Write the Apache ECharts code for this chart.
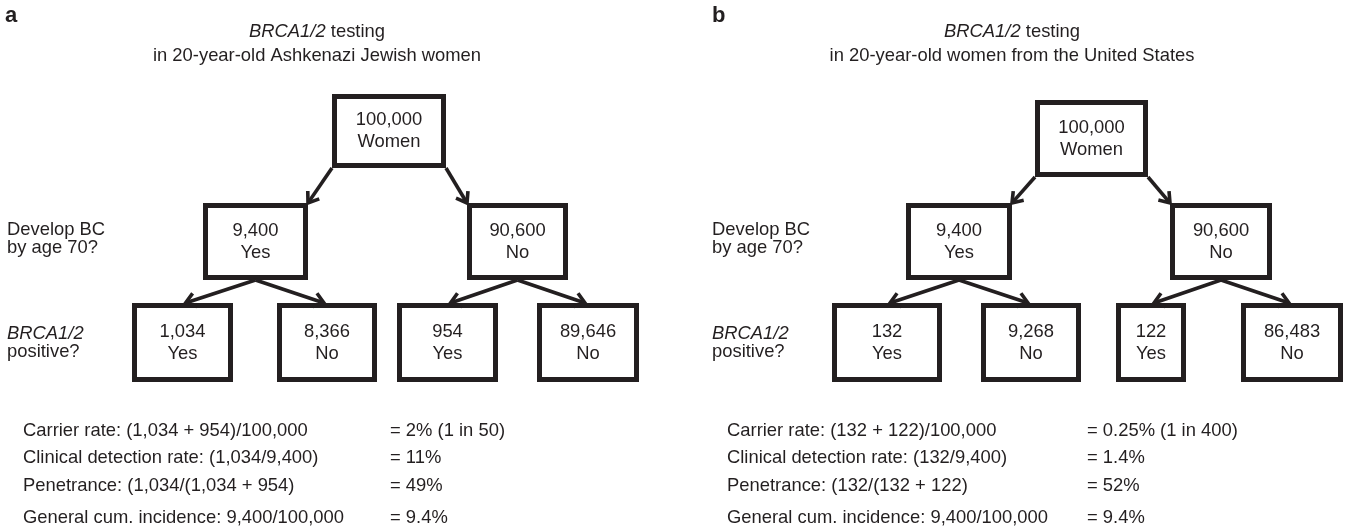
<!DOCTYPE html>
<html><head><meta charset="utf-8">
<script src="https://cdn.jsdelivr.net/npm/echarts@6/dist/echarts.min.js"></script>
<style>html,body{margin:0;padding:0;background:#fff}#c{width:1348px;height:530px}</style>
</head><body><div id="c"></div>
<script>
// ---------------- data ----------------
const panelLetters = ['a', 'b'];
const titleGene = 'BRCA1/2';
const titleRest = ' testing';
const populations = ['in 20-year-old Ashkenazi Jewish women', 'in 20-year-old women from the United States'];
const rootCounts = [100000, 100000];
const rootLabel = 'Women';
const bcCountsA = [9400, 90600];
const bcCountsB = [9400, 90600];
const bcAnswers = ['Yes', 'No'];
const carrierCountsA = [1034, 8366, 954, 89646];
const carrierCountsB = [132, 9268, 122, 86483];
const carrierAnswers = ['Yes', 'No', 'Yes', 'No'];
const question1 = ['Develop BC', 'by age 70?'];
const question2 = ['BRCA1/2', 'positive?'];
const metricNames = ['Carrier rate', 'Clinical detection rate', 'Penetrance', 'General cum. incidence'];
const formulasA = ['(1,034 + 954)/100,000', '(1,034/9,400)', '(1,034/(1,034 + 954)', '9,400/100,000'];
const formulasB = ['(132 + 122)/100,000', '(132/9,400)', '(132/(132 + 122)', '9,400/100,000'];
const resultsA = ['2% (1 in 50)', '11%', '49%', '9.4%'];
const resultsB = ['0.25% (1 in 400)', '1.4%', '52%', '9.4%'];

// ---------------- layout & style ----------------
const INK = '#231f20';
const FF = '"Liberation Sans", Arial, Helvetica, sans-serif';
const FS = 18.4;
const BOX_LW = 5;
const ARROW_LW = 3.6;
const LAYOUT = [
  { letter: [5, 27], titleX: 317, qX: 7, textX: 23, resultX: 390,
    root: { l: 332, r: 446, t: 94, b: 168 },
    level2: [{ l: 203, r: 308 }, { l: 467, r: 568 }], l2y: [203, 280],
    level3: [{ l: 132, r: 233 }, { l: 277, r: 377 }, { l: 397, r: 498 }, { l: 537, r: 639 }], l3y: [303, 382] },
  { letter: [712, 27], titleX: 1012, qX: 712, textX: 727, resultX: 1087,
    root: { l: 1035, r: 1148, t: 100, b: 177 },
    level2: [{ l: 906, r: 1012 }, { l: 1170, r: 1272 }], l2y: [203, 280],
    level3: [{ l: 832, r: 942 }, { l: 981, r: 1081 }, { l: 1116, r: 1186 }, { l: 1241, r: 1343 }], l3y: [303, 382] }
];
const TITLE_Y = [32, 56];
const Q1_Y = 239, Q2_Y = 343;
const ROWS_Y = [431, 458, 486, 518];

const fmt = v => v.toLocaleString('en-US');
const panelData = [
  { bc: bcCountsA, carriers: carrierCountsA, formulas: formulasA, results: resultsA },
  { bc: bcCountsB, carriers: carrierCountsB, formulas: formulasB, results: resultsB }
];

// build nodes, edges, texts
const nodes = [], edges = [], texts = [];
LAYOUT.forEach((L, p) => {
  const D = panelData[p];
  const r = L.root;
  nodes.push({ l: r.l, r: r.r, t: r.t, b: r.b, lines: [fmt(rootCounts[p]), rootLabel] });
  L.level2.forEach((b, i) => {
    nodes.push({ l: b.l, r: b.r, t: L.l2y[0], b: L.l2y[1], lines: [fmt(D.bc[i]), bcAnswers[i]] });
    if (i === 0) edges.push([r.l, r.b, b.r, L.l2y[0]]);
    else edges.push([r.r, r.b, b.l, L.l2y[0]]);
  });
  L.level3.forEach((b, j) => {
    nodes.push({ l: b.l, r: b.r, t: L.l3y[0], b: L.l3y[1], lines: [fmt(D.carriers[j]), carrierAnswers[j]] });
    const par = L.level2[Math.floor(j / 2)];
    const px = (par.l + par.r) / 2, cx = (b.l + b.r) / 2;
    edges.push([px, L.l2y[1], cx + (cx < px ? 3 : -3), L.l3y[0]]);
  });
  texts.push({ x: L.letter[0], y: L.letter[1], text: panelLetters[p], align: 'left', vAlign: 'alphabetic', bold: true, size: 22 });
  texts.push({ x: L.titleX, y: TITLE_Y[0], text: '{i|' + titleGene + '}' + titleRest, align: 'center' });
  texts.push({ x: L.titleX, y: TITLE_Y[1], text: populations[p], align: 'center' });
  texts.push({ x: L.qX, y: Q1_Y, text: question1.join('\n'), align: 'left', lh: 18 });
  texts.push({ x: L.qX, y: Q2_Y, text: '{i|' + question2[0] + '}\n' + question2[1], align: 'left', lh: 18 });
  metricNames.forEach((m, k) => {
    texts.push({ x: L.textX, y: ROWS_Y[k], text: m + ': ' + D.formulas[k], align: 'left' });
    texts.push({ x: L.resultX, y: ROWS_Y[k], text: '= ' + D.results[k], align: 'left' });
  });
});

const chart = echarts.init(document.getElementById('c'), null, { renderer: 'canvas' });
chart.setOption({
  animation: false,
  backgroundColor: '#fff',
  grid: { left: 0, right: 0, top: 0, bottom: 0 },
  xAxis: { type: 'value', min: 0, max: 1348, show: false },
  yAxis: { type: 'value', min: 0, max: 530, inverse: true, show: false },
  series: [
    {
      type: 'custom', name: 'boxes', z: 2, silent: true,
      data: nodes.map(n => [(n.l + n.r) / 2, (n.t + n.b) / 2]),
      renderItem: (params, api) => {
        const n = nodes[params.dataIndex];
        const p0 = api.coord([n.l, n.t]);
        const p1 = api.coord([n.r, n.b]);
        const c = api.coord([api.value(0), api.value(1)]);
        return { type: 'group', children: [
          { type: 'rect', shape: { x: p0[0] + BOX_LW / 2, y: p0[1] + BOX_LW / 2, width: p1[0] - p0[0] - BOX_LW, height: p1[1] - p0[1] - BOX_LW },
            style: { fill: '#fff', stroke: INK, lineWidth: BOX_LW, lineJoin: 'miter' } },
          { type: 'text', style: { x: c[0], y: c[1], text: n.lines.join('\n'), align: 'center', verticalAlign: 'middle',
            lineHeight: 22, fontSize: FS, fontFamily: FF, fill: INK } }
        ] };
      }
    },
    {
      type: 'custom', name: 'arrows', z: 3, silent: true,
      data: edges.map(e => [e[0], e[1], e[2], e[3]]),
      renderItem: (params, api) => {
        const a = api.coord([api.value(0), api.value(1)]);
        const b = api.coord([api.value(2), api.value(3)]);
        const ang = Math.atan2(b[1] - a[1], b[0] - a[0]);
        const len = 12, spread = 0.62;
        const h1 = [b[0] - len * Math.cos(ang - spread), b[1] - len * Math.sin(ang - spread)];
        const h2 = [b[0] - len * Math.cos(ang + spread), b[1] - len * Math.sin(ang + spread)];
        return { type: 'group', children: [
          { type: 'line', shape: { x1: a[0], y1: a[1], x2: b[0] - 1.5 * Math.cos(ang), y2: b[1] - 1.5 * Math.sin(ang) },
            style: { stroke: INK, lineWidth: ARROW_LW } },
          { type: 'polyline', shape: { points: [h1, b, h2] },
            style: { stroke: INK, lineWidth: ARROW_LW, fill: null, lineJoin: 'miter' } }
        ] };
      }
    },
    {
      type: 'custom', name: 'texts', z: 4, silent: true,
      data: texts.map(t => [t.x, t.y]),
      renderItem: (params, api) => {
        const t = texts[params.dataIndex];
        const c = api.coord([api.value(0), api.value(1)]);
        const size = t.size || FS;
        const lh = t.lh || 22;
        return { type: 'text', style: {
          x: c[0], y: c[1], text: t.text, align: t.align, verticalAlign: t.vAlign === 'alphabetic' ? 'bottom' : 'middle',
          fontSize: size, fontFamily: FF, fontWeight: t.bold ? 'bold' : 'normal', fill: INK, lineHeight: lh,
          rich: { i: { fontStyle: 'italic', fontSize: size, fontFamily: FF, fill: INK, lineHeight: lh } }
        } };
      }
    }
  ]
});
</script>
</body></html>
